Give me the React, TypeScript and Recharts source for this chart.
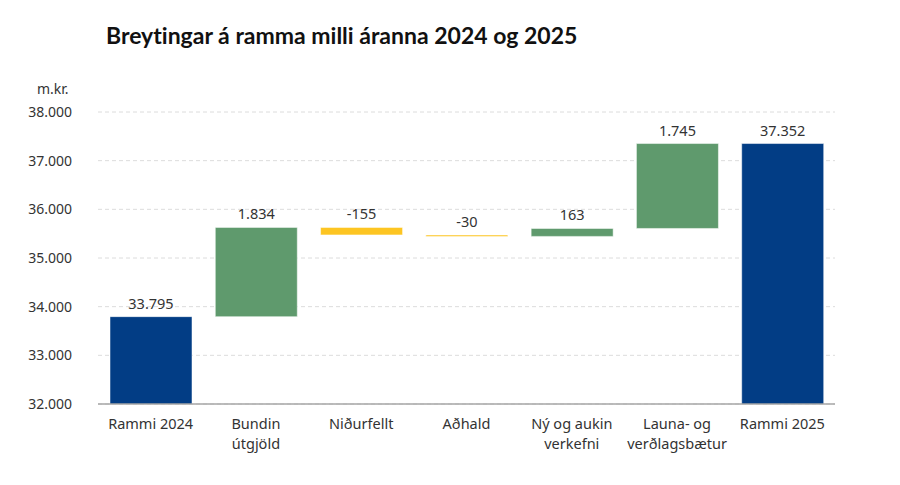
import { BarChart, Bar, XAxis, YAxis, CartesianGrid, Cell, LabelList } from 'recharts';

const categories = [
  'Rammi 2024',
  'Bundin útgjöld',
  'Niðurfellt',
  'Aðhald',
  'Ný og aukin verkefni',
  'Launa- og verðlagsbætur',
  'Rammi 2025',
];
const tickLines: string[][] = [
  ['Rammi 2024'],
  ['Bundin', 'útgjöld'],
  ['Niðurfellt'],
  ['Aðhald'],
  ['Ný og aukin', 'verkefni'],
  ['Launa- og', 'verðlagsbætur'],
  ['Rammi 2025'],
];
// totals are absolute, the rest are changes from the previous step
const values = [33795, 1834, -155, -30, 163, 1745, 37352];
const isTotal = [true, false, false, false, false, false, true];
const yTicks = [32000, 33000, 34000, 35000, 36000, 37000, 38000];

const FONT = "'Noto Sans', sans-serif";
const BLUE = '#023d85';
const GREEN = '#5f9a6d';
const YELLOW = '#fdc522';

const fmt = (n: number) => {
  const s = Math.abs(n).toString().replace(/\B(?=(\d{3})+(?!\d))/g, '.');
  return n < 0 ? '-' + s : s;
};

let running = 0;
const data = categories.map((name, i) => {
  const v = values[i];
  let range: [number, number];
  if (isTotal[i]) {
    range = [0, v];
    running = v;
  } else {
    const start = running;
    running = start + v;
    range = [Math.min(start, running), Math.max(start, running)];
  }
  return { name, range, label: fmt(v), idx: i };
});

const colorFor = (i: number) => (isTotal[i] ? BLUE : values[i] < 0 ? YELLOW : GREEN);

const CategoryTick = (props: any) => {
  const { x, y, payload } = props;
  const lines = tickLines[payload.index] ?? [payload.value];
  return (
    <text x={x} y={y} textAnchor="middle" fill="#333" fontSize={14.5} fontFamily={FONT}>
      {lines.map((l, k) => (
        <tspan key={k} x={x} dy={k === 0 ? 17 : 20}>
          {l}
        </tspan>
      ))}
    </text>
  );
};

const ValueLabel = (props: any) => {
  const { x, y, width, index } = props;
  return (
    <text
      x={x + width / 2}
      y={y - 8}
      textAnchor="middle"
      fill="#333"
      fontSize={14.5}
      fontFamily={FONT}
    >
      {data[index].label}
    </text>
  );
};

export default function App() {
  return (
    <div style={{ position: 'absolute', left: 0, top: 0, width: 900, height: 485, background: '#fff' }}>
      <div
        style={{
          position: 'absolute',
          left: 106,
          top: 21,
          fontFamily: "Lato, 'Noto Sans', sans-serif",
          fontWeight: 700,
          fontSize: 23,
          fontVariantLigatures: 'none',
          color: '#111',
          whiteSpace: 'nowrap',
        }}
      >
        Breytingar á ramma milli áranna 2024 og 2025
      </div>
      <div
        style={{
          position: 'absolute',
          left: 37,
          top: 79,
          fontFamily: FONT,
          fontSize: 14,
          color: '#333',
        }}
      >
        m.kr.
      </div>
      <BarChart
        width={900}
        height={485}
        data={data}
        margin={{ top: 112, right: 65, left: 0, bottom: 21 }}
      >
        <CartesianGrid vertical={false} stroke="#dcdcdc" strokeDasharray="4 3" />
        <XAxis
          dataKey="name"
          interval={0}
          height={60}
          tickLine={false}
          axisLine={{ stroke: '#a6a6a6', strokeWidth: 1.5 }}
          tick={<CategoryTick />}
        />
        <YAxis
          domain={[32000, 38000]}
          ticks={yTicks}
          allowDataOverflow
          width={98}
          axisLine={false}
          tickLine={false}
          tickSize={0}
          tickMargin={26}
          tickFormatter={fmt}
          tick={{ fontSize: 14, fill: '#333', fontFamily: FONT }}
        />
        <Bar dataKey="range" barSize={82} isAnimationActive={false} stroke="#ffffff" strokeOpacity={0.5}>
          {data.map((d) => (
            <Cell key={d.name} fill={colorFor(d.idx)} />
          ))}
          <LabelList dataKey="label" content={<ValueLabel />} />
        </Bar>
      </BarChart>
    </div>
  );
}
